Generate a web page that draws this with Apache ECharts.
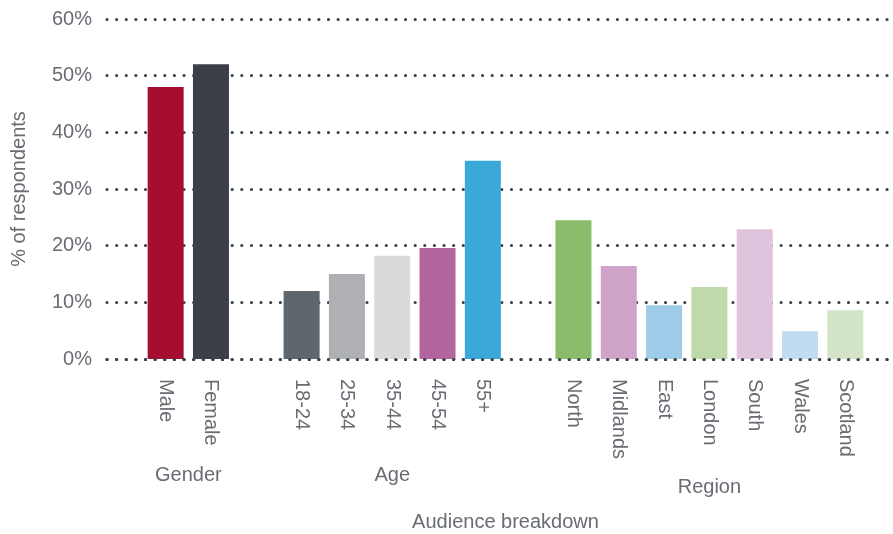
<!DOCTYPE html>
<html>
<head>
<meta charset="utf-8">
<script src="https://cdn.jsdelivr.net/npm/echarts@6/dist/echarts.min.js"></script>
<style>
  html, body { margin: 0; padding: 0; background: #ffffff; }
  #chart { width: 893px; height: 534px; }
</style>
</head>
<body>
<div id="chart"></div>
<script>
// Survey audience breakdown (% of respondents)
const categories = ['Male', 'Female', ' ', '18-24', '25-34', '35-44', '45-54', '55+', '  ',
  'North', 'Midlands', 'East', 'London', 'South', 'Wales', 'Scotland'];
const values = [48, 52, null, 12, 15, 18.2, 19.6, 35, null, 24.5, 16.4, 9.5, 12.7, 22.9, 4.9, 8.6];
const barColors = ['#a50e30', '#3a3f48', null, '#5f666d', '#aeb0b3', '#dadada', '#b3669e', '#3aa8d8', null,
  '#8bbc6c', '#d0a3c8', '#9ecbe8', '#c0d9aa', '#e0c3dc', '#c0dcf0', '#d4e4c6'];
const groupNames = ['Gender', 'Age', 'Region'];
const groupFirst = ['Male', '18-24', 'North'];
const groupLast = ['Female', '55+', 'Scotland'];
const yTicks = [0, 10, 20, 30, 40, 50, 60];

const FONT = '"Liberation Sans", Arial, sans-serif';
const TEXT = '#686c73';
const DOTS = { color: '#3b404a', width: 3.2, type: [0.01, 9.62], cap: 'round' };

const chart = echarts.init(document.getElementById('chart'), null, { renderer: 'canvas' });

const gridTop = 19, gridBottom = 175;

const option = {
  animation: false,
  textStyle: { fontFamily: FONT, color: TEXT },
  grid: [
    { left: 107, right: 2, top: gridTop, bottom: gridBottom, containLabel: false, outerBoundsMode: 'none' },
    { left: 143, right: 25, top: gridTop, bottom: gridBottom, containLabel: false, outerBoundsMode: 'none' }
  ],
  xAxis: [
    {
      // full-width baseline drawn over the bars
      gridIndex: 0, type: 'value', min: 0, max: 1, z: 5,
      axisLine: { show: true, lineStyle: DOTS },
      axisTick: { show: false }, axisLabel: { show: false }, splitLine: { show: false }
    },
    {
      gridIndex: 1, type: 'category', data: categories,
      axisLine: { show: false }, axisTick: { show: false },
      axisLabel: { rotate: -90, margin: 20, fontSize: 20, color: TEXT, fontFamily: FONT, interval: 0 },
      name: 'Audience breakdown', nameLocation: 'middle', nameGap: 153,
      nameTextStyle: { fontSize: 20, color: TEXT, fontFamily: FONT }
    }
  ],
  yAxis: [
    {
      gridIndex: 0, type: 'value', min: yTicks[0], max: yTicks[yTicks.length - 1], interval: 10,
      axisLine: { show: false }, axisTick: { show: false },
      axisLabel: { formatter: '{value}%', fontSize: 20, margin: 15, color: TEXT, fontFamily: FONT },
      splitLine: { show: true, lineStyle: DOTS },
      name: '% of respondents', nameLocation: 'middle', nameGap: 78, nameRotate: 90,
      nameTextStyle: { fontSize: 20, color: TEXT, fontFamily: FONT }
    },
    { gridIndex: 1, type: 'value', min: yTicks[0], max: yTicks[yTicks.length - 1], show: false }
  ],
  series: [{
    type: 'bar', xAxisIndex: 1, yAxisIndex: 1, barWidth: 36, z: 3,
    data: values.map((v, i) => ({ value: v === null ? '-' : v, itemStyle: { color: barColors[i] || 'transparent' } }))
  }]
};

chart.setOption(option);

// group captions under the rotated category labels
const groupTop = [465, 465, 477];
const graphics = groupNames.map((g, i) => {
  const x0 = chart.convertToPixel({ xAxisIndex: 1 }, groupFirst[i]);
  const x1 = chart.convertToPixel({ xAxisIndex: 1 }, groupLast[i]);
  return {
    type: 'text', x: (x0 + x1) / 2, y: groupTop[i],
    style: { text: g, fill: TEXT, font: '20px ' + FONT, textAlign: 'center', textVerticalAlign: 'top' }
  };
});
chart.setOption({ graphic: graphics });
</script>
</body>
</html>
